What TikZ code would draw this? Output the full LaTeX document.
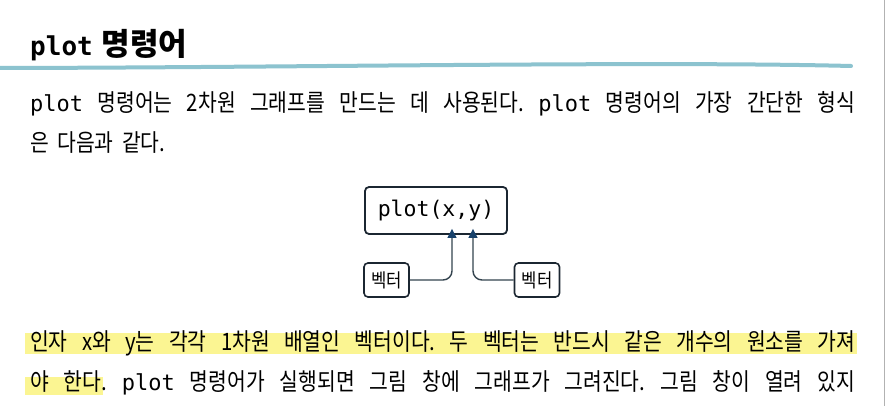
\documentclass[tikz,border=0pt]{standalone}
\usepackage{fontspec}
\usetikzlibrary{arrows.meta,calc}
\newfontfamily\krbody[FakeStretch=0.85]{Noto Sans CJK KR}
\newfontfamily\krtitle{Noto Sans CJK KR}
\newfontfamily\krsmall[FakeStretch=0.88]{Noto Sans CJK KR}
\newfontfamily\monof{DejaVu Sans Mono}
\definecolor{brushc}{HTML}{8CC3CF}
\definecolor{boxc}{HTML}{1B2631}
\definecolor{connc}{HTML}{34444F}
\definecolor{arrc}{HTML}{17416B}
\definecolor{hlc}{HTML}{FBF592}
\newcommand\bodyline[1]{\hbox to 825pt{\frenchspacing\spaceskip=0.3em plus 1fil minus 0.2em\relax #1}}
\newcommand\bodymono[1]{{\monof\fontsize{22}{22}\selectfont #1}}
\begin{document}
\begin{tikzpicture}[x=1pt,y=-1pt,
  txt/.style={anchor=base west, inner sep=0pt, font=\krbody\fontsize{24}{24}\selectfont},
  mainbox/.style={draw=boxc, line width=1.8pt, rounded corners=4pt, minimum width=142pt, minimum height=47pt, inner sep=0pt, font=\monof\fontsize{21.5}{21.5}\selectfont},
  vbox/.style={draw=boxc, line width=1.6pt, rounded corners=4pt, minimum width=45pt, minimum height=34pt, inner sep=0pt, font=\krsmall\fontsize{19}{19}\selectfont},
  conn/.style={draw=connc, line width=1.4pt, rounded corners=9pt, -{Triangle[length=9pt,width=9pt,color=arrc]}},
  brush/.style={draw=brushc, line width=4pt, line cap=round},
  hl/.style={fill=hlc}]
\useasboundingbox (0,0) rectangle (886,406);
\fill[white] (0,0) rectangle (886,406);
% page edge
\draw[gray!60, line width=0.8pt] (884.5,0) -- (884.5,406);
% title
\node[anchor=base west, inner sep=0pt] (title) at (30,56)
  {{\monof\bfseries\fontsize{26}{26}\selectfont plot}\hspace{9pt}{\krtitle\bfseries\fontsize{31}{31}\selectfont 명령어}};
\draw[brush] (0,68) .. controls (300,67.5) and (650,61) .. (851,66);
% highlights
\fill[hl] (25,333) rectangle (857,354);
\fill[hl] (25,377) rectangle (103,395);
% body text
\node[txt] (l1) at (30,112) {\bodyline{\bodymono{plot} 명령어는 2차원 그래프를 만드는 데 사용된다. \bodymono{plot} 명령어의 가장 간단한 형식}};
\node[txt] (l2) at (30,152) {\frenchspacing\spaceskip=0.35em\relax 은 다음과 같다.};
\node[txt] (l3) at (30,350) {\bodyline{인자 x와 y는 각각 1차원 배열인 벡터이다. 두 벡터는 반드시 같은 개수의 원소를 가져}};
\node[txt] (l4) at (30,390) {\bodyline{야 한다. \bodymono{plot} 명령어가 실행되면 그림 창에 그래프가 그려진다. 그림 창이 열려 있지}};
% diagram
\node[mainbox] (box) at (436,210.5) {plot(x,y)};
\node[vbox] (lb) at (386.5,280) {벡터};
\node[vbox] (rb) at (537,280) {벡터};
\coordinate (tl) at ($(box.south)+(16,-6)$);
\coordinate (tr) at ($(box.south)+(37,-6)$);
\draw[conn] (lb.east) -| (tl);
\draw[conn] (rb.west) -| (tr);
\end{tikzpicture}
\end{document}
